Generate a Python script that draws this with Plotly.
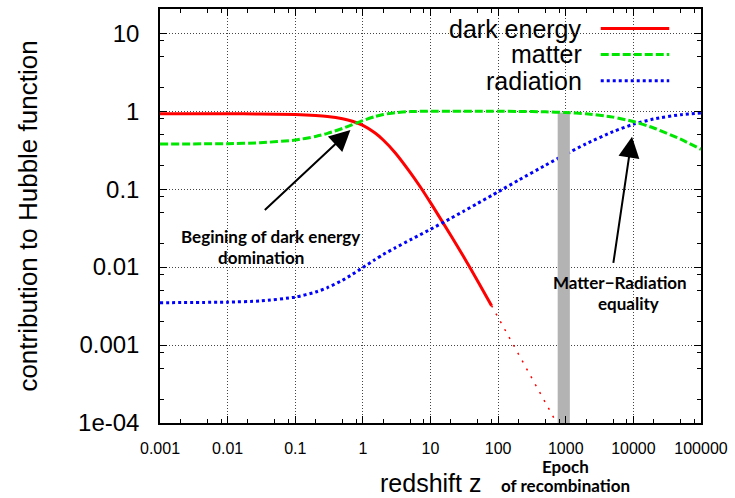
import numpy as np
import plotly.graph_objects as go

# redshift sample points
z = [0.001, 0.01, 0.03, 0.1, 0.2, 0.3, 0.5, 0.7, 1, 1.5, 2, 3, 5, 7, 10,
     20, 30, 50, 80, 100, 200, 500, 1000, 2000, 5000, 10000, 20000, 50000, 100000]

# contributions to the Hubble function
matter = [0.378, 0.383, 0.393, 0.426, 0.473, 0.518, 0.600, 0.671, 0.756, 0.850,
          0.905, 0.956, 0.986, 0.994, 0.997, 0.999, 0.999, 0.998, 0.997, 0.996,
          0.992, 0.979, 0.960, 0.924, 0.838, 0.735, 0.608, 0.436, 0.324]
radiation = [0.00349, 0.00355, 0.00367, 0.00412, 0.00478, 0.00545, 0.00678, 0.00807,
             0.00986, 0.0124, 0.0145, 0.0176, 0.0223, 0.0259, 0.0305, 0.0422, 0.0513,
             0.0657, 0.0827, 0.0923, 0.130, 0.202, 0.280, 0.382, 0.546, 0.678, 0.794,
             0.900, 0.946]
# dark energy: computed range (solid) and its extrapolation (dotted)
z_de = z[:19]
dark_energy = [0.926, 0.924, 0.920, 0.905, 0.881, 0.856, 0.800, 0.742, 0.655, 0.527,
               0.426, 0.293, 0.164, 0.108, 0.0670, 0.0254, 0.0142, 0.0066, 0.0032]
z_de_ext = [80, 200, 500, 760]
dark_energy_ext = [0.0032, 0.00076, 0.00018, 0.000095]

# epoch of recombination band
recomb_z = [760, 1150]
recomb_top = 0.96

x_tickvals = [0.001, 0.01, 0.1, 1, 10, 100, 1000, 10000, 100000]
x_ticktext = ["0.001", "0.01", "0.1", "1", "10", "100", "1000", "10000", "100000"]
y_tickvals = [1e-4, 1e-3, 1e-2, 0.1, 1, 10]
y_ticktext = ["1e-04", "0.001", "0.01", "0.1", "1", "10"]

RED, GREEN, BLUE = "#ff0000", "#00e600", "#0000ff"
FONT = "Liberation Sans, Arial, sans-serif"
NOTE_FONT = dict(family="Lato, sans-serif", size=17, color="black", weight="bold")

fig = go.Figure()
fig.add_trace(go.Scatter(x=z_de, y=dark_energy, mode="lines", name="dark energy",
                         line=dict(color=RED, width=3, shape="spline", smoothing=0.6)))
fig.add_trace(go.Scatter(x=z_de_ext, y=dark_energy_ext, mode="lines", showlegend=False,
                         line=dict(color=RED, width=1.5, dash="2px,7px")))
fig.add_trace(go.Scatter(x=z, y=radiation, mode="lines", name="radiation",
                         line=dict(color=BLUE, width=3, dash="3px,3px",
                                   shape="spline", smoothing=0.6)))
fig.add_trace(go.Scatter(x=[recomb_z[0], recomb_z[1], recomb_z[1], recomb_z[0], recomb_z[0]],
                         y=[1e-4, 1e-4, recomb_top, recomb_top, 1e-4],
                         mode="lines", fill="toself", fillcolor="#b3b3b3",
                         line=dict(width=0, color="#b3b3b3"), showlegend=False,
                         hoverinfo="skip"))
fig.add_trace(go.Scatter(x=z, y=matter, mode="lines", name="matter",
                         line=dict(color=GREEN, width=3, dash="8px,3px",
                                   shape="spline", smoothing=0.6)))

axis_common = dict(type="log", showline=True, linecolor="black", linewidth=1.5,
                   mirror="ticks", ticks="inside", ticklen=7, tickcolor="black",
                   tickwidth=1, showgrid=True, gridcolor="#444", gridwidth=1,
                   griddash="1px,2px", zeroline=False)

fig.update_xaxes(**axis_common, range=[-3, 5], tickmode="array",
                 tickvals=x_tickvals, ticktext=x_ticktext,
                 tickfont=dict(family=FONT, size=16, color="black"),
                 ticklabelstandoff=10,
                 minor=dict(tickmode="array",
                            tickvals=[m * 10.0 ** k for k in range(-3, 5) for m in (2, 5, 8)],
                            ticks="inside", ticklen=4, tickcolor="black", showgrid=False))
fig.update_yaxes(**axis_common, range=[-4, 1.31], tickmode="array",
                 tickvals=y_tickvals, ticktext=y_ticktext,
                 tickfont=dict(family=FONT, size=24, color="black"),
                 ticklabelstandoff=14,
                 minor=dict(tickmode="array",
                            tickvals=[m * 10.0 ** k for k in range(-4, 2) for m in (2, 5, 8)],
                            ticks="inside", ticklen=4, tickcolor="black", showgrid=False),
                 title=dict(text="contribution to Hubble function",
                            font=dict(family=FONT, size=26, color="black"), standoff=33))

# custom legend: right-aligned labels with line samples on the right
legend_items = [("dark energy", RED, "solid", 26.7),
                ("matter", GREEN, "8px,3px", 52.7),
                ("radiation", BLUE, "3px,3px", 79.0)]
shapes = [dict(type="rect", xref="x domain", yref="y domain", x0=255 / 545, x1=528 / 545,
               y0=1 - 87 / 416, y1=1 - 6 / 416, fillcolor="white",
               line=dict(width=0), layer="below")]
annotations = []
for label, color, dash, ypix in legend_items:
    yp = 1 - (ypix - 7) / 416
    annotations.append(dict(text=label, xref="x domain", yref="y domain",
                            x=427 / 545, y=yp, xanchor="right", yanchor="middle",
                            showarrow=False, font=dict(family=FONT, size=25, color="black")))
    shapes.append(dict(type="line", xref="x domain", yref="y domain",
                       x0=444 / 545, x1=513 / 545, y0=yp, y1=yp,
                       line=dict(color=color, width=3, dash=dash)))

lg = np.log10
# arrows pointing at the crossings
arrows = [((0.655, 0.574), (0.0337, 0.0519)),
          ((9550, 0.471), (5020, 0.0108))]
for (tx, ty), (sx, sy) in arrows:
    annotations.append(dict(x=lg(tx), y=lg(ty), ax=lg(sx), ay=lg(sy),
                            xref="x", yref="y", axref="x", ayref="y", text="",
                            showarrow=True, arrowhead=2, arrowsize=2.1, arrowwidth=2,
                            arrowcolor="black"))

notes = [("Begining of dark energy", 10 ** -1.365, 10 ** -1.604),
         ("domination", 10 ** -1.507, 10 ** -1.881),
         ("Matter\u2212Radiation", 10 ** 3.804, 10 ** -2.200),
         ("equality", 10 ** 3.922, 10 ** -2.469)]
for text, nx, ny in notes:
    annotations.append(dict(text=text, x=lg(nx), y=lg(ny), xref="x", yref="y",
                            xanchor="center", yanchor="middle",
                            showarrow=False, font=NOTE_FONT))
for text, yp in [("Epoch", -0.1040), ("of recombination", -0.1515)]:
    annotations.append(dict(text=text, x=lg(975), y=yp, xref="x", yref="paper",
                            xanchor="center", yanchor="middle",
                            showarrow=False, font=NOTE_FONT))

annotations.append(dict(text="redshift z", xref="paper", yref="paper", x=0.5, y=-0.1440,
                        xanchor="center", yanchor="middle",
                        showarrow=False, font=dict(family=FONT, size=25, color="black")))

fig.update_layout(width=735, height=498, margin=dict(l=160, r=30, t=7, b=75),
                  paper_bgcolor="white", plot_bgcolor="white", showlegend=False,
                  shapes=shapes, annotations=annotations)

fig.write_html("out.html")
